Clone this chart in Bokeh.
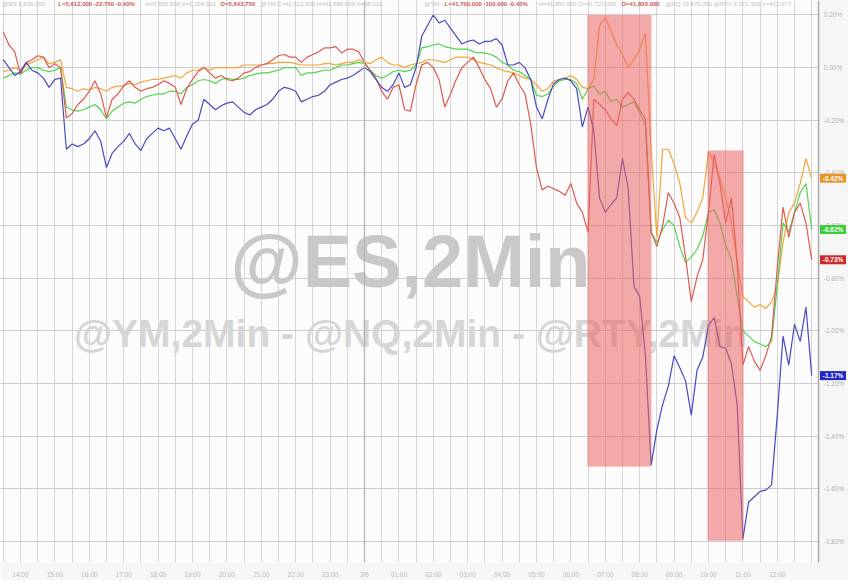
import numpy as np
from bokeh.plotting import figure
from bokeh.models import FixedTicker, Div, Range1d, Span, BoxAnnotation
from bokeh.layouts import column
from bokeh.embed import file_html
from bokeh.resources import INLINE
from bokeh.core.properties import value

# time axis: 10-minute samples, hours relative to the first labelled hour
steps = np.arange(-3, 139)
times = steps / 6.0

hour_ticks = list(range(23))
hour_labels = ["14:00", "15:00", "16:00", "17:00", "18:00", "19:00", "20:00", "21:00",
               "22:00", "23:00", "3/6", "01:00", "02:00", "03:00", "04:00", "05:00",
               "06:00", "07:00", "08:00", "09:00", "10:00", "11:00", "12:00"]
y_ticks = [0.2, 0.0, -0.2, -0.4, -0.6, -0.8, -1.0, -1.2, -1.4, -1.6, -1.8]

# % change series
nq = [0.03, 0.00, -0.03, -0.015, 0.02, -0.01, -0.02, -0.04, -0.075, -0.045, -0.04,
      -0.31, -0.29, -0.30, -0.29, -0.27, -0.24, -0.28, -0.38, -0.325, -0.30,
      -0.28, -0.25, -0.29, -0.315, -0.27, -0.25, -0.23, -0.24, -0.23, -0.27,
      -0.31, -0.26, -0.215, -0.20, -0.12, -0.14, -0.16, -0.145, -0.135, -0.13,
      -0.15, -0.17, -0.18, -0.16, -0.15, -0.14, -0.12, -0.09, -0.075, -0.08,
      -0.09, -0.13, -0.12, -0.11, -0.105, -0.09, -0.065, -0.055, -0.045, -0.04,
      -0.03, -0.015, 0.00, -0.015, -0.045, -0.075, -0.09, -0.065, -0.02, -0.075,
      -0.065, 0.00, 0.12, 0.16, 0.20, 0.17, 0.18, 0.15, 0.12, 0.09,
      0.10, 0.105, 0.09, 0.10, 0.10, 0.11, 0.086, 0.01, 0.01, 0.02,
      0.00, -0.045, -0.15, -0.195, -0.12, -0.06, -0.045, -0.04, -0.05, -0.08,
      -0.225, -0.15, -0.24, -0.495, -0.55, -0.52, -0.495, -0.345, -0.46, -0.83,
      -0.87, -1.095, -1.51, -1.375, -1.28, -1.21, -1.095, -1.14, -1.19, -1.32,
      -1.15, -1.10, -0.98, -0.95, -1.06, -1.065, -1.125, -1.28, -1.79, -1.65,
      -1.63, -1.61, -1.605, -1.585, -1.32, -1.02, -1.13, -0.975, -1.04, -0.91, -1.17]

rty = [0.135, 0.086, 0.06, -0.025, 0.02, 0.03, 0.045, 0.04, 0.00, 0.015, 0.00,
       -0.19, -0.175, -0.14, -0.12, -0.09, -0.05, -0.10, -0.19, -0.12, -0.10,
       -0.07, -0.05, -0.075, -0.09, -0.08, -0.075, -0.065, -0.05, -0.06, -0.075,
       -0.14, -0.08, -0.045, -0.015, 0.00, -0.02, -0.04, -0.03, -0.045, -0.05,
       -0.04, -0.02, -0.015, 0.00, 0.01, 0.015, 0.03, 0.045, 0.05, 0.04,
       0.04, 0.02, 0.04, 0.05, 0.06, 0.075, 0.075, 0.08, 0.056, 0.07,
       0.07, 0.06, 0.02, -0.01, -0.04, -0.09, -0.12, -0.075, -0.065, -0.16,
       -0.165, -0.065, 0.01, 0.02, 0.00, -0.045, -0.15, -0.10, -0.045, 0.00,
       0.02, 0.04, 0.00, -0.045, -0.08, -0.15, -0.12, -0.05, -0.02, -0.065,
       -0.10, -0.215, -0.38, -0.465, -0.45, -0.46, -0.47, -0.485, -0.44, -0.515,
       -0.55, -0.625, -0.12, -0.14, -0.16, -0.195, -0.22, -0.12, -0.095, -0.12,
       -0.16, -0.195, -0.625, -0.68, -0.60, -0.475, -0.515, -0.57, -0.72, -0.89,
       -0.795, -0.73, -0.55, -0.33, -0.44, -0.59, -0.495, -0.74, -1.13, -1.06,
       -1.115, -1.15, -1.095, -1.02, -0.76, -0.53, -0.645, -0.55, -0.515, -0.59, -0.73]

ym = [-0.015, -0.01, 0.00, -0.01, 0.01, 0.02, 0.03, 0.04, 0.015, 0.02, 0.03,
      -0.075, -0.08, -0.09, -0.08, -0.085, -0.075, -0.08, -0.09, -0.075, -0.07,
      -0.07, -0.06, -0.065, -0.055, -0.05, -0.045, -0.045, -0.04, -0.035, -0.03,
      -0.04, -0.02, -0.01, -0.01, 0.00, -0.01, 0.00, 0.00, 0.00, 0.00,
      0.00, 0.01, 0.01, 0.01, 0.01, 0.015, 0.015, 0.02, 0.02, 0.02,
      0.015, 0.01, 0.01, 0.01, 0.01, 0.015, 0.015, 0.01, 0.015, 0.02,
      0.02, 0.03, 0.02, 0.015, 0.03, 0.04, 0.02, 0.01, 0.01, 0.00,
      0.01, 0.015, 0.02, 0.03, 0.03, 0.025, 0.02, 0.03, 0.04, 0.04,
      0.04, 0.03, 0.02, 0.015, 0.01, 0.00, -0.01, -0.015, -0.02, -0.03,
      -0.04, -0.045, -0.065, -0.09, -0.08, -0.05, -0.045, -0.04, -0.03, -0.045,
      -0.075, -0.08, -0.045, 0.16, 0.19, 0.14, 0.086, 0.05, 0.00, 0.03,
      0.07, 0.13, -0.31, -0.645, -0.31, -0.31, -0.365, -0.44, -0.57, -0.59,
      -0.55, -0.495, -0.32, -0.365, -0.42, -0.495, -0.59, -0.74, -0.87, -0.89,
      -0.91, -0.90, -0.915, -0.89, -0.83, -0.665, -0.55, -0.515, -0.44, -0.345, -0.42]

es = [-0.04, -0.03, -0.02, -0.025, -0.01, 0.00, 0.00, -0.01, -0.015, -0.01, 0.00,
      -0.15, -0.16, -0.165, -0.16, -0.15, -0.14, -0.16, -0.195, -0.165, -0.15,
      -0.135, -0.13, -0.135, -0.12, -0.11, -0.105, -0.10, -0.10, -0.09, -0.09,
      -0.10, -0.075, -0.065, -0.05, -0.045, -0.05, -0.06, -0.045, -0.04, -0.045,
      -0.045, -0.04, -0.03, -0.025, -0.02, -0.02, -0.015, -0.01, 0.00, 0.00,
      0.00, -0.03, -0.02, -0.02, -0.015, -0.01, -0.01, 0.00, 0.01, 0.01,
      0.015, 0.02, 0.015, -0.01, -0.03, -0.04, -0.03, -0.015, -0.01, -0.015,
      -0.01, 0.01, 0.075, 0.08, 0.086, 0.09, 0.08, 0.075, 0.07, 0.07,
      0.07, 0.06, 0.056, 0.056, 0.05, 0.04, 0.02, 0.01, -0.01, -0.015,
      -0.03, -0.045, -0.105, -0.11, -0.10, -0.07, -0.05, -0.045, -0.045, -0.06,
      -0.12, -0.08, -0.07, -0.10, -0.09, -0.13, -0.12, -0.15, -0.14, -0.13,
      -0.17, -0.22, -0.625, -0.665, -0.615, -0.58, -0.60, -0.68, -0.74, -0.72,
      -0.69, -0.64, -0.55, -0.54, -0.59, -0.675, -0.73, -0.87, -1.00, -1.02,
      -1.04, -1.05, -1.06, -1.04, -0.83, -0.59, -0.625, -0.55, -0.475, -0.44, -0.615]

# shaded windows (hours, % range)
box_left = [16.48, 19.97]
box_right = [18.34, 21.02]
box_top = [0.20, -0.315]
box_bottom = [-1.515, -1.797]

# header quote strip
hdr_gray_text = ["@ES 5,629.250", "H=5,655.500  V=1,204,312", "@YM C=41,512.000  H=41,880.000  V=98,211",
                 "@YM", "H=41,950.000  C=41,720.000", "@NQ 19,870.250  @RTY 2,071.300  V=412,077"]
hdr_gray_x = [-0.52, 3.63, 6.98, 11.74, 15.06, 18.75]
hdr_red_text = ["L=5,612.000  -22.750  -0.40%", "O=5,643.750", "L=41,700.000  -100.000  -0.40%", "O=41,820.000"]
hdr_red_x = [1.10, 5.81, 12.33, 17.47]

last_values = [ym[-1], es[-1], rty[-1], nq[-1]]
last_text = ["-0.42%", "-0.62%", "-0.73%", "-1.17%"]
last_colors = ["#e8922c", "#3ccc3c", "#cc2a2a", "#2424c4"]

X_END = 23.2          # right edge of the price area (axis line)
X_MAX = 24.07         # right edge incl. the price-scale strip

p = figure(width=848, height=580, x_range=Range1d(-0.58, X_MAX), y_range=Range1d(-1.88, 0.255),
           y_axis_location=None, output_backend="svg", toolbar_location=None,
           min_border_left=0, min_border_top=0, min_border_right=0, min_border_bottom=10)
p.background_fill_color = "#fcfcfc"
p.border_fill_color = "#f6f6f6"
p.outline_line_color = None

p.xgrid.ticker = FixedTicker(ticks=[i / 2 for i in range(-1, 47)])
p.xgrid.grid_line_color = "#d6d6d6"
p.ygrid.ticker = FixedTicker(ticks=y_ticks)
p.ygrid.grid_line_color = "#cccccc"

p.xaxis.ticker = FixedTicker(ticks=hour_ticks)
p.xaxis.major_label_overrides = {t: l for t, l in zip(hour_ticks, hour_labels)}
p.xaxis.axis_line_color = None
p.xaxis.major_tick_line_color = None
p.xaxis.minor_tick_line_color = None
p.xaxis.major_label_text_color = "#bdbdbd"
p.xaxis.major_label_text_font_size = "6.5px"
p.xaxis.major_label_standoff = 2

p.add_layout(Span(location=10, dimension="height", line_color="#b5b5b5", line_width=1.3))

# watermark
p.text(x=[11.34], y=[-0.735], text=["@ES,2Min"], text_align="center", text_baseline="alphabetic",
       text_font=value("Liberation Sans"), text_font_style="bold", text_font_size="74px",
       text_color="#c8c8c8")
p.text(x=[11.34], y=[-1.011], text=["@YM,2Min - @NQ,2Min - @RTY,2Min"], text_align="center",
       text_baseline="alphabetic", text_font=value("Liberation Sans"), text_font_style="bold",
       text_font_size="39px", text_color="#d6d6d6")

# header strip
p.text(x=hdr_gray_x, y=[0.24] * len(hdr_gray_x), text=hdr_gray_text, text_baseline="middle",
       text_font=value("Liberation Sans"), text_font_size="6px", text_color="#c2c2c2")
p.text(x=hdr_red_x, y=[0.24] * len(hdr_red_x), text=hdr_red_text, text_baseline="middle",
       text_font=value("Liberation Sans"), text_font_style="bold", text_font_size="6px",
       text_color="#cf5a5a")

p.line(times, ym, line_color="#f2a53a", line_width=1.2)
p.line(times, es, line_color="#52d452", line_width=1.2)
p.line(times, rty, line_color="#dd5a52", line_width=1.2)
p.line(times, nq, line_color="#4a4ac0", line_width=1.2)

p.quad(left=box_left, right=box_right, top=box_top, bottom=box_bottom,
       fill_color="#ec6464", fill_alpha=0.55, line_color=None)

# price scale strip on the right
p.add_layout(BoxAnnotation(left=X_END + 0.03, fill_color="#f6f6f6", fill_alpha=1.0, line_color=None))
p.add_layout(Span(location=X_END, dimension="height", line_color="#a9a9a9", line_width=1.5))

scale_txt = p.text(x=[X_END + 0.15] * len(y_ticks), y=y_ticks,
                   text=["%.2f%%" % t for t in y_ticks], text_baseline="middle",
                   text_font=value("Liberation Sans"), text_font_size="6.5px", text_color="#b4b4b4")
scale_txt.level = "overlay"

badge = p.rect(x=[23.62] * 4, y=last_values, width=26, height=9, width_units="screen",
               height_units="screen", fill_color=last_colors, line_color=None)
badge.level = "overlay"
badge_txt = p.text(x=[23.62] * 4, y=last_values, text=last_text, text_align="center",
                   text_baseline="middle", text_font=value("Liberation Sans"), text_font_style="bold",
                   text_font_size="6.5px", text_color="white")
badge_txt.level = "overlay"

strip = Div(text="", width=848, height=5, styles={"background-color": "#2f2f2f"})
layout = column(p, strip, spacing=0)

open("out.html", "w").write(file_html(layout, INLINE))
